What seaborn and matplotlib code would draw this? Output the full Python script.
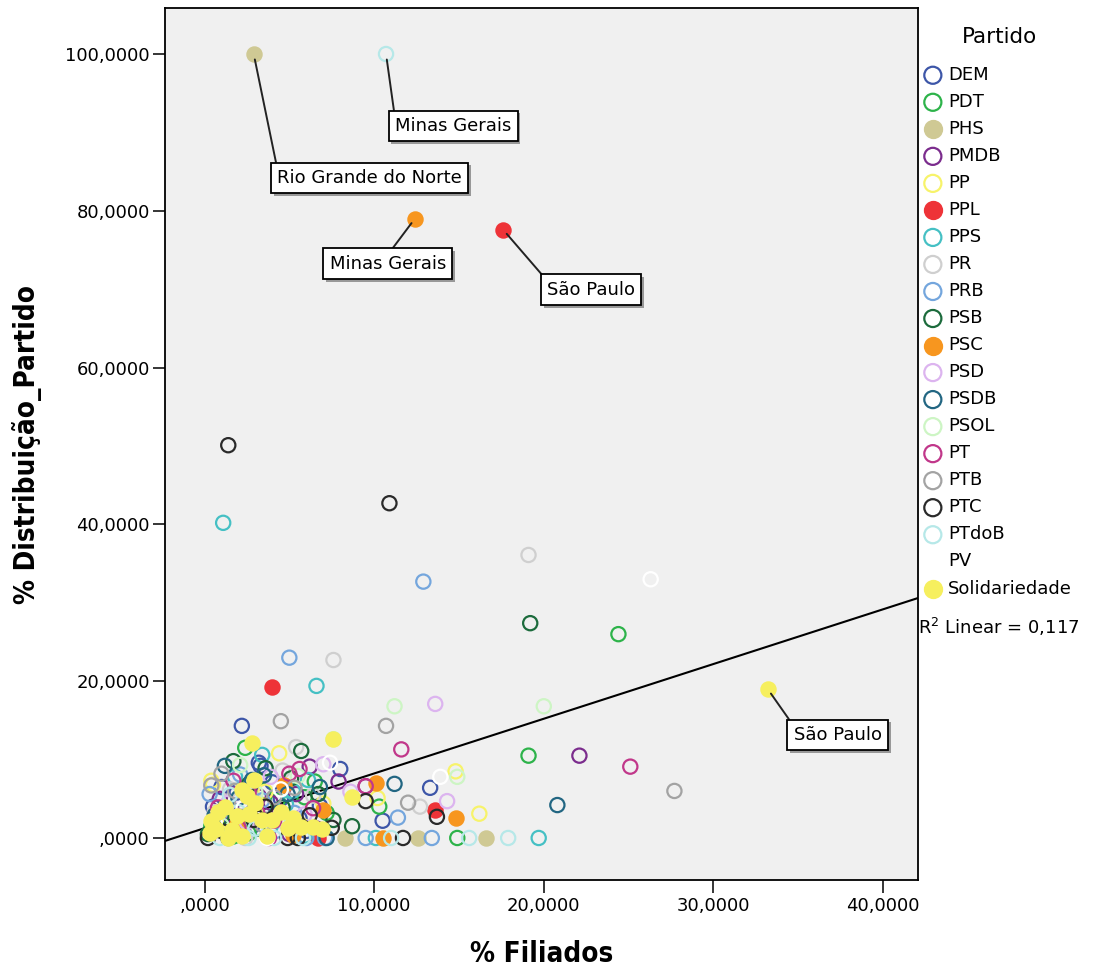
import numpy as np
import pandas as pd
import matplotlib
matplotlib.use('Agg')
import matplotlib.pyplot as plt
import matplotlib.patheffects as pe
from matplotlib.ticker import FuncFormatter, MultipleLocator
import seaborn as sns

## Dados

partidos = ['DEM', 'PDT', 'PHS', 'PMDB', 'PP', 'PPL', 'PPS', 'PR', 'PRB', 'PSB',
            'PSC', 'PSD', 'PSDB', 'PSOL', 'PT', 'PTB', 'PTC', 'PTdoB', 'PV', 'Solidariedade']

cores = ['#3d56a8', '#2db34a', '#cfc994', '#7b2c8d', '#f7f36a', '#ee3338', '#45c0c4', '#cfcfcf',
         '#74a6dd', '#1c6b3c', '#f7961f', '#dcb4ef', '#226682', '#cdf5c4', '#c1378a', '#a3a3a3',
         '#2a2a2a', '#b6e8e8', '#ffffff', '#f6ef5e']

preenchidos = ['PHS', 'PPL', 'PSC', 'Solidariedade'] # Partidos com marcador cheio

# % Filiados (x) e % Distribuicao_Partido (y) por partido
dem_x = [2.2, 3.3, 8.0, 13.3, 10.5, 3.2, 1.0, 0.5, 1.6, 4.5, 5.6, 2.8, 6.8, 0.8, 1.9, 4.0, 6.0]
dem_y = [14.3, 9.2, 8.8, 6.4, 2.2, 9.6, 6.5, 4.0, 3.0, 5.0, 2.5, 1.5, 4.1, 2.2, 5.8, 7.1, 0.9]

pdt_x = [24.4, 19.1, 2.4, 10.3, 14.9, 3.5, 1.2, 5.2, 0.4, 6.5, 7.2, 2.6, 4.3, 1.7, 5.9]
pdt_y = [26.0, 10.5, 11.5, 4.0, 0.0, 6.0, 3.8, 2.0, 1.5, 7.2, 3.2, 0.6, 4.7, 0.2, 5.2]

phs_x = [2.9, 8.3, 12.6, 16.6]
phs_y = [100.0, 0.0, 0.0, 0.0]

pmdb_x = [22.1, 6.2, 9.5, 7.9, 3.9, 1.8, 5.4, 0.9, 2.7, 6.6, 4.4, 2.4, 5.0, 3.2]
pmdb_y = [10.5, 9.1, 6.6, 7.2, 4.5, 2.6, 5.6, 5.0, 7.0, 1.2, 3.4, 3.9, 0.5, 5.3]

pp_x = [16.2, 14.8, 4.4, 10.2, 0.4, 3.0, 5.8, 2.1, 7.0, 0.5, 1.5, 3.6]
pp_y = [3.1, 8.5, 10.8, 5.1, 7.3, 3.5, 1.5, 0.8, 4.4, 6.8, 2.1, 5.9]

ppl_x = [17.6, 4.0, 13.6, 6.7]
ppl_y = [77.6, 19.3, 3.6, 0.0]

pps_x = [1.1, 6.6, 3.4, 6.1, 19.7, 10.1, 2.5, 0.7, 4.8, 5.9, 3.9, 1.8, 5.2]
pps_y = [40.2, 19.4, 10.6, 7.4, 0.0, 0.0, 2.8, 1.0, 4.3, 0.3, 1.5, 7.8, 6.0]

pr_x = [19.1, 7.6, 12.7, 5.4, 1.5, 3.7, 0.6, 6.4, 2.4, 4.6, 2.9]
pr_y = [36.1, 22.7, 4.0, 11.6, 6.2, 2.4, 3.3, 5.4, 0.0, 8.6, 4.9]

prb_x = [12.9, 5.0, 11.4, 9.5, 13.4, 7.1, 3.4, 1.2, 5.3, 0.3, 2.1, 6.0, 4.2]
prb_y = [32.7, 23.0, 2.6, 0.0, 0.0, 0.0, 4.8, 2.0, 3.2, 5.6, 8.1, 0.0, 0.9]

psb_x = [19.2, 5.7, 3.6, 7.6, 8.7, 2.6, 1.0, 4.6, 6.7, 0.2, 3.1, 5.1, 1.7]
psb_y = [27.4, 11.1, 8.9, 2.3, 1.5, 6.8, 2.7, 3.9, 5.6, 0.5, 1.2, 7.6, 9.8]

psc_x = [12.4, 14.8, 10.1, 4.7, 10.5, 7.0, 1.9, 5.2]
psc_y = [79.0, 2.6, 7.0, 6.8, 0.0, 3.6, 1.8, 0.4]

psd_x = [13.6, 14.3, 7.0, 1.4, 3.9, 5.9, 0.5, 8.6, 2.5, 4.8]
psd_y = [17.1, 4.7, 9.4, 4.5, 7.8, 3.0, 0.8, 5.9, 2.0, 1.9]

psdb_x = [20.8, 11.2, 1.2, 2.8, 6.8, 4.2, 0.6, 5.6, 2.0, 7.2, 3.5, 4.9, 1.4]
psdb_y = [4.2, 6.9, 9.2, 7.4, 6.5, 3.0, 2.9, 1.5, 5.1, 0.0, 8.0, 5.6, 0.0]

psol_x = [20.0, 11.2, 14.9, 7.6, 3.0, 1.0, 5.5, 4.4, 2.1]
psol_y = [16.8, 16.8, 7.8, 12.6, 5.8, 1.6, 7.9, 2.6, 9.3]

pt_x = [25.1, 11.6, 5.0, 9.5, 2.6, 4.1, 0.8, 6.4, 3.8, 1.7, 3.1, 5.6, 2.0]
pt_y = [9.1, 11.3, 8.2, 6.6, 5.8, 2.2, 3.9, 3.8, 0.0, 7.3, 3.3, 8.8, 1.3]

ptb_x = [27.7, 10.7, 4.5, 12.0, 1.0, 2.2, 5.3, 0.4, 3.4, 1.8, 4.1]
ptb_y = [6.0, 14.3, 14.9, 4.5, 8.2, 4.5, 6.4, 6.7, 1.7, 6.0, 5.2]

ptc_x = [1.4, 10.9, 13.7, 9.5, 11.7, 0.2, 4.9, 5.5, 2.9, 7.5, 3.6, 6.2, 1.1]
ptc_y = [50.1, 42.7, 2.7, 4.7, 0.0, 0.0, 0.0, 0.0, 2.3, 1.3, 4.0, 2.9, 0.8]

ptdob_x = [10.7, 15.6, 17.9, 11.0, 0.9, 2.6, 3.0, 1.5, 4.1, 5.8, 2.0]
ptdob_y = [100.0, 0.0, 0.0, 0.0, 0.0, 0.0, 1.2, 5.5, 0.0, 0.0, 3.3]

pv_x = [26.3, 13.9, 7.4, 3.7, 2.3, 4.5, 0.6]
pv_y = [33.0, 7.8, 9.6, 0.0, 3.8, 6.2, 2.0]

solid_x = [33.2, 2.8, 7.6, 2.9, 2.2, 8.7, 0.8, 1.2, 3.4, 4.0, 1.6, 4.9, 5.7, 6.4,
           1.4, 0.4, 2.2, 3.0, 4.5, 0.7, 1.9, 2.6, 3.7, 5.2, 0.3, 6.9, 2.5]
solid_y = [19.0, 12.1, 12.6, 7.4, 6.1, 5.2, 3.3, 4.0, 2.3, 2.3, 1.0, 1.3, 1.4, 1.4,
           0.0, 2.2, 0.2, 4.5, 3.3, 1.2, 2.8, 3.0, 0.3, 2.6, 0.6, 1.1, 5.3]

valores_x = [dem_x, pdt_x, phs_x, pmdb_x, pp_x, ppl_x, pps_x, pr_x, prb_x, psb_x,
             psc_x, psd_x, psdb_x, psol_x, pt_x, ptb_x, ptc_x, ptdob_x, pv_x, solid_x]
valores_y = [dem_y, pdt_y, phs_y, pmdb_y, pp_y, ppl_y, pps_y, pr_y, prb_y, psb_y,
             psc_y, psd_y, psdb_y, psol_y, pt_y, ptb_y, ptc_y, ptdob_y, pv_y, solid_y]

# Reta de ajuste linear mostrada no grafico
r2_linear = 0.117
intercepto = 1.25
inclinacao = 0.698

# Rotulos: (partido, indice do ponto, estado)
rotulos = [('PHS', 0, 'Rio Grande do Norte'),
           ('PTdoB', 0, 'Minas Gerais'),
           ('PSC', 0, 'Minas Gerais'),
           ('PPL', 0, 'São Paulo'),
           ('Solidariedade', 0, 'São Paulo')]

## Montar dataframe

linhas = []
for p, xs, ys in zip(partidos, valores_x, valores_y):
    for i, (xv, yv) in enumerate(zip(xs, ys)):
        linhas.append((p, i, xv, yv))
data = pd.DataFrame(linhas, columns = ['Partido', 'idx', 'Filiados', 'Distribuicao'])

## Grafico

plt.rcParams['font.family'] = 'DejaVu Sans'

fig = plt.figure(figsize = (10.96, 9.74), dpi = 100)
ax = fig.add_axes([165/1096, 1 - 880/974, 753/1096, 872/974])
ax.set_facecolor('#f0f0f0')

for p, c in zip(partidos, cores):
    sub = data[data['Partido'] == p]
    if p in preenchidos:
        sns.scatterplot(data = sub, x = 'Filiados', y = 'Distribuicao', ax = ax, s = 105,
                        facecolors = c, edgecolor = c, linewidth = 1.6, label = p, zorder = 3)
    else:
        sns.scatterplot(data = sub, x = 'Filiados', y = 'Distribuicao', ax = ax, s = 105,
                        facecolors = 'none', edgecolor = c, linewidth = 1.6, label = p, zorder = 3)

ax.axline((0, intercepto), slope = inclinacao, color = 'black', lw = 1.5, zorder = 2)

ax.set_xlim(-2.33, 42.06)
ax.set_ylim(-5.36, 105.87)
ax.xaxis.set_major_locator(MultipleLocator(10))
ax.yaxis.set_major_locator(MultipleLocator(20))
fmt = FuncFormatter(lambda v, pos: ('%.4f' % v).replace('.', ',').lstrip('0') if abs(v) < 1 else ('%.4f' % v).replace('.', ','))
ax.xaxis.set_major_formatter(fmt)
ax.yaxis.set_major_formatter(fmt)
ax.tick_params(axis = 'both', direction = 'out', length = 9, width = 1.1, labelsize = 13, colors = 'black')
ax.tick_params(axis = 'x', pad = 3.5)
ax.tick_params(axis = 'y', pad = 2)
for s in ax.spines.values():
    s.set_linewidth(1.3)
    s.set_color('black')

fonte_eixo = dict(family = 'DejaVu Sans', stretch = 'condensed', weight = 'bold', size = 20)
ax.set_xlabel('% Filiados', fontdict = fonte_eixo)
ax.set_ylabel('% Distribuição_Partido', fontdict = fonte_eixo)
ax.xaxis.set_label_coords(0.5, -(940 - 880)/872)
ax.yaxis.set_label_coords(-(165 - 42)/753, 0.5)

# Rotulos dos pontos
deslocamentos = [(116, -124, (0, 1)), (67, -72, (0, 1)), (-27, -45, (0.5, 1)), (88, -60, (0, 1)), (70, -46, (0, 1))]
for (p, i, estado), (dx, dy, rel) in zip(rotulos, deslocamentos):
    ponto = data[(data['Partido'] == p) & (data['idx'] == i)].iloc[0]
    an = ax.annotate(estado, xy = (ponto['Filiados'], ponto['Distribuicao']), xytext = (dx, dy),
                     textcoords = 'offset pixels', ha = 'center', va = 'center', fontsize = 13, zorder = 5,
                     bbox = dict(boxstyle = 'square,pad=0.35', fc = 'white', ec = 'black', lw = 1.3),
                     arrowprops = dict(arrowstyle = '-', color = '#222222', lw = 1.4, relpos = rel,
                                       shrinkA = 0, shrinkB = 4))
    an.get_bbox_patch().set_path_effects([pe.SimplePatchShadow(offset = (2, -2), shadow_rgbFace = '0.45', alpha = 0.7), pe.Normal()])

# Legenda
handles, labels = ax.get_legend_handles_labels()
if ax.get_legend():
    ax.get_legend().remove()
fig.text(1000/1096, 1 - 37/974, 'Partido', fontsize = 15.5, ha = 'center', va = 'center')
fig.legend(handles, labels, loc = 'upper left', bbox_to_anchor = (922/1096, 1 - 66/974),
           frameon = False, fontsize = 13, markerscale = 1.2, handlelength = 1.2, handletextpad = 0.24,
           labelspacing = 0.5, borderpad = 0, borderaxespad = 0)

fig.text(918/1096, 1 - 627/974, r'R$^2$ Linear = 0,117', fontsize = 13, ha = 'left', va = 'center')

plt.savefig('out.png', dpi = 100)
